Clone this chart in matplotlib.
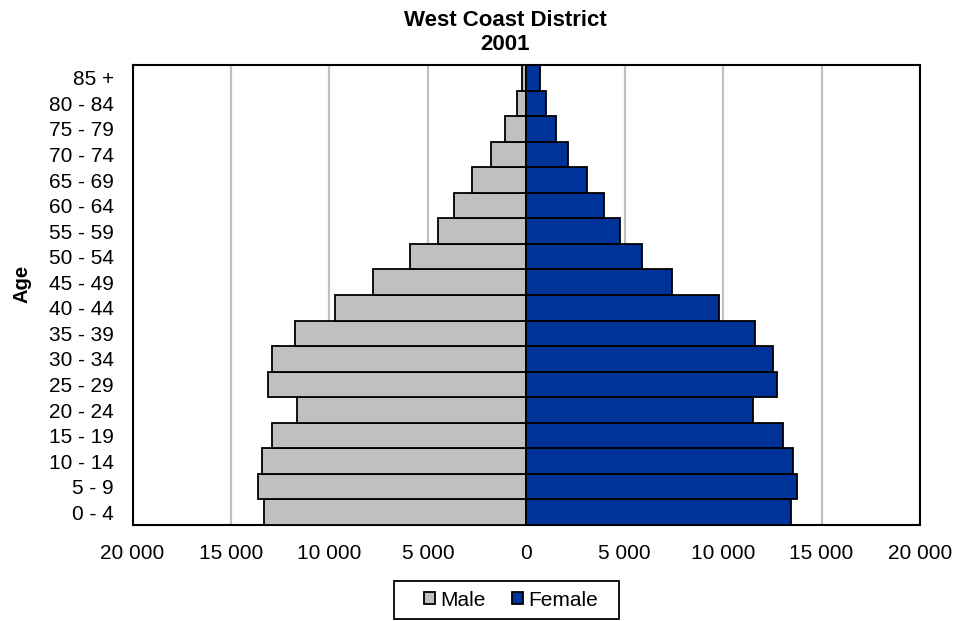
import matplotlib
matplotlib.use("Agg")
import matplotlib.pyplot as plt
from matplotlib.patches import Patch, Rectangle
from matplotlib.ticker import FuncFormatter, FixedLocator
import numpy as np

plt.rcParams['font.family'] = ['Liberation Sans', 'DejaVu Sans']

age_groups = ["0 - 4", "5 - 9", "10 - 14", "15 - 19", "20 - 24", "25 - 29",
              "30 - 34", "35 - 39", "40 - 44", "45 - 49", "50 - 54", "55 - 59",
              "60 - 64", "65 - 69", "70 - 74", "75 - 79", "80 - 84", "85 +"]
male = [13340, 13640, 13440, 12930, 11630, 13140, 12930, 11740, 9710, 7760,
        5910, 4490, 3680, 2780, 1770, 1060, 450, 210]
female = [13430, 13730, 13530, 13020, 11500, 12720, 12510, 11600, 9770, 7420,
          5880, 4760, 3950, 3110, 2120, 1510, 1010, 690]
x_ticks = [-20000, -15000, -10000, -5000, 0, 5000, 10000, 15000, 20000]

W, H = 956, 621
fig = plt.figure(figsize=(W / 100, H / 100), dpi=100)
ax = fig.add_axes([132.5 / W, 1 - 525 / H, (920 - 132.5) / W, (525 - 65) / H])

y = np.arange(len(age_groups))
ax.barh(y, -np.array(male), height=1.0, color="#C0C0C0", edgecolor="black",
        linewidth=1.3, zorder=3, label="Male")
ax.barh(y, female, height=1.0, color="#003399", edgecolor="black",
        linewidth=1.3, zorder=3, label="Female")

ax.set_xlim(-20000, 20000)
ax.set_ylim(-0.5, len(age_groups) - 0.5)
ax.xaxis.set_major_locator(FixedLocator(x_ticks))
ax.xaxis.set_major_formatter(
    FuncFormatter(lambda v, p: f"{abs(int(round(v))):,}".replace(",", " ")))
ax.set_yticks(y)
ax.set_yticklabels(age_groups)
ax.tick_params(axis="both", length=0, labelsize=15)
ax.tick_params(axis="y", pad=13.5)
ax.tick_params(axis="x", pad=14)
ax.grid(axis="x", color="#C0C0C0", linewidth=1.6, zorder=0)
ax.set_axisbelow(True)
for s in ax.spines.values():
    s.set_linewidth(1.5)
    s.set_color("black")

fig.text(22 / W, 1 - 284 / H, "Age", rotation=90, fontsize=14.5,
         fontweight="bold", ha="center", va="center")
fig.text(505 / W, 1 - 20 / H, "West Coast District", fontsize=16,
         fontweight="bold", ha="center", va="center")
fig.text(505 / W, 1 - 44 / H, "2001", fontsize=16,
         fontweight="bold", ha="center", va="center")

# legend entries, with a separately drawn frame
handles = [Patch(facecolor="#C0C0C0", edgecolor="black", linewidth=1.3, label="Male"),
           Patch(facecolor="#003399", edgecolor="black", linewidth=1.3, label="Female")]
leg = fig.legend(handles=handles, loc="center", bbox_to_anchor=(511 / W, 1 - 600 / H),
                 ncol=2, fontsize=15, frameon=False,
                 handlelength=0.55, handleheight=0.55, handletextpad=0.25,
                 columnspacing=1.25, borderpad=0.3, borderaxespad=0)
fig.patches.append(Rectangle((394 / W, 1 - 619 / H), (619 - 394) / W, (619 - 581) / H,
                             transform=fig.transFigure, facecolor="none",
                             edgecolor="black", linewidth=1.3))

fig.savefig("out.png", dpi=100)
